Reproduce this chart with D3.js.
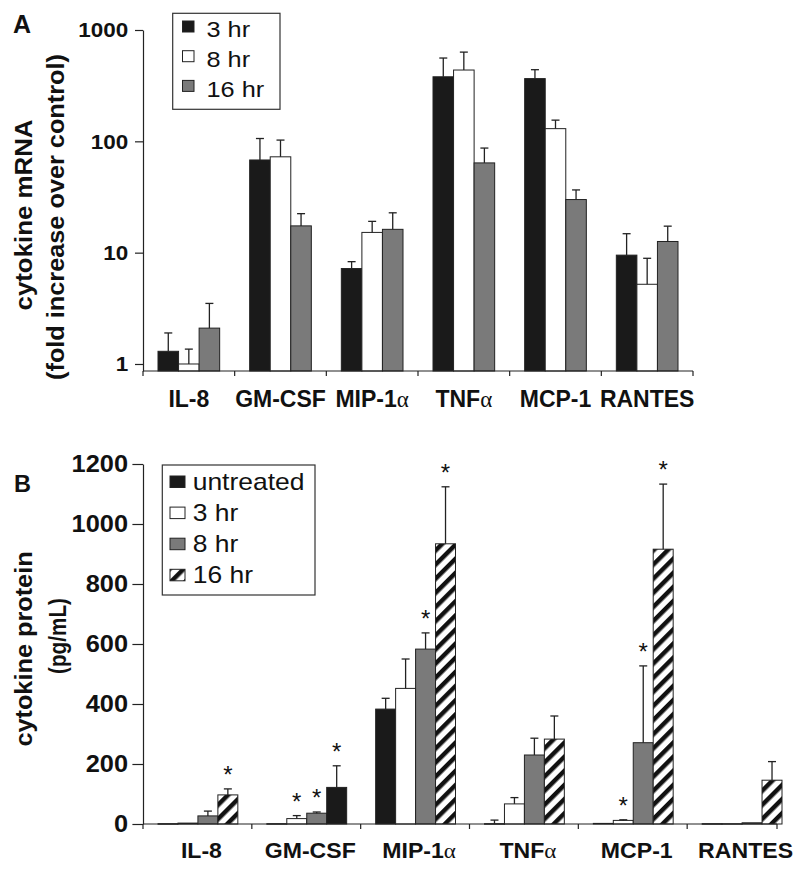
<!DOCTYPE html>
<html lang="en">
<head>
<meta charset="UTF-8">
<title>Cytokine mRNA and protein</title>
<style>
    body { margin: 0; background: #fff; }
    svg { display: block; font-family: "Liberation Sans", Arial, sans-serif; }
    .greek { font-family: "Liberation Serif", "DejaVu Serif", serif; font-weight: normal; }
</style>
</head>
<body>
<svg width="800" height="873"></svg>
<script src="https://d3js.org/d3.v7.min.js"></script>
<script>
// ---- data ----
const categories = ["IL-8", "GM-CSF", "MIP-1α", "TNFα", "MCP-1", "RANTES"];

// panel A: fold increase of mRNA over control (mean and SD)
const mrnaSeries = ["3 hr", "8 hr", "16 hr"];
const mrna3hr  = [1.3, 68, 7.2, 380, 366, 9.5];
const mrna8hr  = [1.0, 72.6, 15.2, 437, 130, 5.2];
const mrna16hr = [2.1, 17.4, 16.2, 64, 30, 12.6];
const mrnaSd3hr  = [0.6, 38, 1.1, 180, 74, 5.3];
const mrnaSd8hr  = [0.36, 30, 3.9, 196, 25, 3.7];
const mrnaSd16hr = [1.4, 5, 6.6, 23, 6.6, 4.7];
const mrnaTicks = [1, 10, 100, 1000];

// panel B: protein pg/mL (mean and SD), stars = significant
const proteinSeries = ["untreated", "3 hr", "8 hr", "16 hr"];
const protUntreated = [1, 1, 383, 1, 2, 1];
const prot3hr  = [3, 18, 452, 67, 12, 1];
const prot8hr  = [27, 36, 583, 230, 271, 4];
const prot16hr = [97, 122, 934, 283, 916, 146];
const protSdUntreated = [0, 0, 36, 12, 0, 0];
const protSd3hr  = [0, 10, 98, 21, 2, 0];
const protSd8hr  = [16, 4, 54, 56, 256, 0];
const protSd16hr = [20, 72, 190, 77, 217, 62];
const starUntreated = [0, 0, 0, 0, 0, 0];
const star3hr  = [0, 1, 0, 0, 1, 0];
const star8hr  = [0, 1, 1, 0, 1, 0];
const star16hr = [1, 1, 1, 0, 1, 0];
const proteinTicks = [0, 200, 400, 600, 800, 1000, 1200];

// ---- helpers ----
const svg = d3.select("svg");
const ink = "#222";

const defs = svg.append("defs");
const hatch = defs.append("pattern")
    .attr("id", "hatch")
    .attr("patternUnits", "userSpaceOnUse")
    .attr("width", 10).attr("height", 10)
    .attr("patternTransform", "rotate(45)");
hatch.append("rect").attr("width", 10).attr("height", 10).attr("fill", "#fff");
hatch.append("rect").attr("width", 4.5).attr("height", 10).attr("fill", "#111");

// text with a slight horizontal stretch, like the original lettering
function label(parent, x, y, s, o = {}) {
    const t = parent.append("text")
        .attr("transform", `translate(${x},${y})${o.rotate ? ` rotate(${o.rotate})` : ""} scale(${o.sx || 1},1)`)
        .attr("text-anchor", o.anchor || "start")
        .attr("fill", "#111")
        .style("font-size", o.size + "px")
        .style("font-weight", o.bold ? "bold" : "normal");
    s.split("α").forEach((p, i) => {
        if (i) t.append("tspan").attr("class", "greek").text("α");
        if (p) t.append("tspan").text(p);
    });
    return t;
}

function yAxis(scale, ticks, fmt, tickLen, pad, size, sx) {
    const g = svg.append("g")
        .attr("transform", `translate(143,0)`)
        .call(d3.axisLeft(scale).tickValues(ticks).tickFormat(fmt)
            .tickSize(tickLen).tickPadding(pad).tickSizeOuter(0));
    g.select(".domain").attr("stroke", ink).attr("stroke-width", 1.2);
    g.selectAll(".tick line").attr("stroke", ink).attr("stroke-width", 1.2);
    g.selectAll(".tick text")
        .attr("fill", "#111")
        .attr("x", -(tickLen + pad) / sx)
        .attr("transform", `scale(${sx},1)`)
        .style("font-family", "'Liberation Sans', Arial, sans-serif")
        .style("font-size", size + "px")
        .style("font-weight", "bold");
}

function xAxis(scale, y0, xEnd) {
    const g = svg.append("g");
    const x0 = scale.range()[0];
    g.append("line").attr("x1", x0).attr("x2", xEnd).attr("y1", y0).attr("y2", y0)
        .attr("stroke", ink).attr("stroke-width", 1.2);
    const ticks = scale.domain().map(c => scale(c)).concat([xEnd]);
    g.selectAll(".xt").data(ticks).enter().append("line")
        .attr("x1", d => d).attr("x2", d => d)
        .attr("y1", y0).attr("y2", y0 + 5)
        .attr("stroke", ink).attr("stroke-width", 1.2);
}

function drawBars(rows, x, xi, y, base, fillFor) {
    const groups = svg.append("g").selectAll("g").data(rows).enter().append("g")
        .attr("transform", d => `translate(${x(d.cat)},0)`);
    const bars = groups.selectAll("g").data(d => d.vals.map(v => ({ ...v, cat: d.cat })))
        .enter().append("g");
    bars.append("rect")
        .attr("x", d => xi(d.s))
        .attr("y", d => y(d.v))
        .attr("width", xi.bandwidth())
        .attr("height", d => Math.max(0.5, base - y(d.v)))
        .attr("fill", d => fillFor(d))
        .attr("stroke", ink).attr("stroke-width", 1);
    const err = bars.filter(d => d.sd > 0);
    err.append("line")
        .attr("x1", d => xi(d.s) + xi.bandwidth() / 2).attr("x2", d => xi(d.s) + xi.bandwidth() / 2)
        .attr("y1", d => y(d.v)).attr("y2", d => y(d.v + d.sd))
        .attr("stroke", ink).attr("stroke-width", 1.3);
    err.append("line")
        .attr("x1", d => xi(d.s) + xi.bandwidth() / 2 - 4).attr("x2", d => xi(d.s) + xi.bandwidth() / 2 + 4)
        .attr("y1", d => y(d.v + d.sd)).attr("y2", d => y(d.v + d.sd))
        .attr("stroke", ink).attr("stroke-width", 1.3);
    bars.filter(d => d.star).each(function (d) {
        label(d3.select(this), xi(d.s) + xi.bandwidth() / 2, y(d.v + d.sd) - 6, "*", { size: 24, anchor: "middle" });
    });
}

// ---- panel A ----
const xA = d3.scaleBand().domain(categories).range([143, 693]);
const xAin = d3.scaleBand().domain(mrnaSeries).range([15, xA.bandwidth() - 15]);
const yA = d3.scaleLog().domain([0.865, 1000]).range([371, 30]);
const fillA = { "3 hr": "#1a1a1a", "8 hr": "#fff", "16 hr": "#7a7a7a" };

const mrnaVals = [mrna3hr, mrna8hr, mrna16hr];
const mrnaSds = [mrnaSd3hr, mrnaSd8hr, mrnaSd16hr];
const mrnaRows = categories.map((c, i) => ({
    cat: c,
    vals: mrnaSeries.map((s, j) => ({ s, v: mrnaVals[j][i], sd: mrnaSds[j][i] }))
}));

drawBars(mrnaRows, xA, xAin, yA, yA.range()[0], d => fillA[d.s]);
yAxis(yA, mrnaTicks, d3.format("d"), 8, 6.7, 21, 1.07);
xAxis(xA, yA.range()[0], xA.range()[1]);
categories.forEach(c => label(svg, xA(c) + xA.bandwidth() / 2, 406.5, c, { size: 23, bold: true, anchor: "middle", sx: 1.0 }));

label(svg, 13, 32.5, "A", { size: 25, bold: true });
label(svg, 32, 215, "cytokine mRNA", { size: 23.5, bold: true, anchor: "middle", rotate: -90, sx: 1.1 });
label(svg, 63.5, 217, "(fold increase over control)", { size: 23, bold: true, anchor: "middle", rotate: -90, sx: 1.1 });

// legend A
const legA = svg.append("g");
legA.append("rect").attr("x", 172.7).attr("y", 13.3).attr("width", 107.3).attr("height", 96)
    .attr("fill", "#fff").attr("stroke", "#333").attr("stroke-width", 1.2);
mrnaSeries.forEach((s, i) => {
    legA.append("rect").attr("x", 182.5).attr("y", 21 + i * 29.7).attr("width", 11.5).attr("height", 11)
        .attr("fill", fillA[s]).attr("stroke", ink);
    label(legA, 206.5, 37.3 + i * 29.7, s, { size: 22, sx: 1.15 });
});

// ---- panel B ----
const xB = d3.scaleBand().domain(categories).range([143, 796]);
const xBin = d3.scaleBand().domain(proteinSeries).range([15, xB.bandwidth() - 14]);
const yB = d3.scaleLinear().domain([0, 1200]).range([824, 464]);
const fillB = { "untreated": "#1a1a1a", "3 hr": "#fff", "8 hr": "#7a7a7a", "16 hr": "url(#hatch)" };

const protVals = [protUntreated, prot3hr, prot8hr, prot16hr];
const protSds = [protSdUntreated, protSd3hr, protSd8hr, protSd16hr];
const protStars = [starUntreated, star3hr, star8hr, star16hr];
const protRows = categories.map((c, i) => ({
    cat: c,
    vals: proteinSeries.map((s, j) => ({ s, v: protVals[j][i], sd: protSds[j][i], star: protStars[j][i] }))
}));

// the GM-CSF 16 hr bar is printed solid black in the original
drawBars(protRows, xB, xBin, yB, yB(0),
    d => (d.cat === "GM-CSF" && d.s === "16 hr") ? "#1a1a1a" : fillB[d.s]);
yAxis(yB, proteinTicks, d3.format("d"), 10.6, 4.4, 23.5, 1.08);
xAxis(xB, yB(0), 777);
categories.forEach(c => label(svg, xB(c) + xB.bandwidth() / 2 + 4, 858, c, { size: 22, bold: true, anchor: "middle", sx: 1.05 }));

label(svg, 14, 492.3, "B", { size: 23.5, bold: true });
label(svg, 32, 649, "cytokine protein", { size: 23, bold: true, anchor: "middle", rotate: -90, sx: 1.1 });
label(svg, 66, 636, "(pg/mL)", { size: 23, bold: true, anchor: "middle", rotate: -90, sx: 0.9 });

// legend B
const legB = svg.append("g");
legB.append("rect").attr("x", 162.3).attr("y", 465).attr("width", 152.7).attr("height", 130)
    .attr("fill", "#fff").attr("stroke", "#333").attr("stroke-width", 1.2);
proteinSeries.forEach((s, i) => {
    legB.append("rect").attr("x", 170).attr("y", 476 + i * 31.1).attr("width", 15).attr("height", 11.5)
        .attr("fill", fillB[s]).attr("stroke", ink);
    label(legB, 192.7, 490 + i * 31.1, s, { size: 23, sx: 1.15 });
});
</script>
</body>
</html>
